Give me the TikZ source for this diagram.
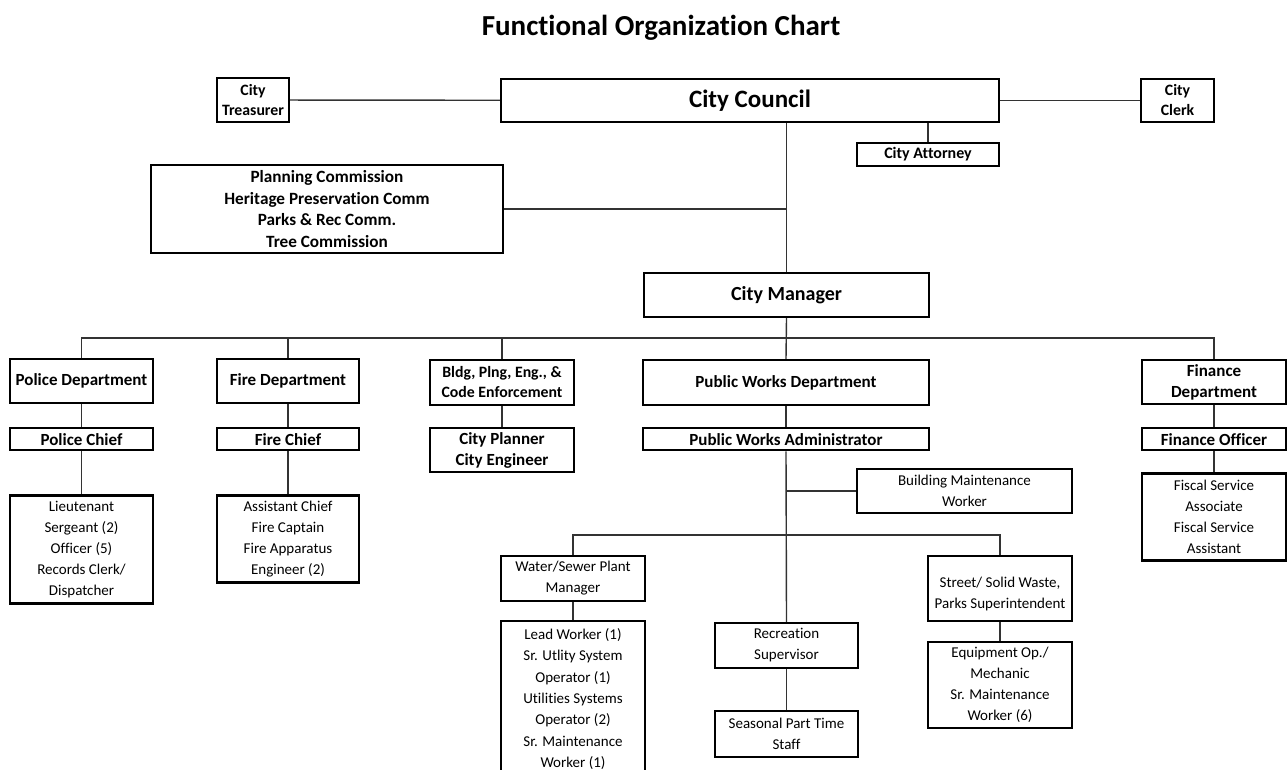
\documentclass[tikz,border=0pt]{standalone}
\usepackage{fontspec}
\setmainfont{Carlito}[Ligatures=NoCommon]
\usetikzlibrary{positioning}
\tikzstyle{block} = [draw, line width=2.2pt, fill=white, rectangle, align=center, inner sep=0pt]
\tikzstyle{head} = [font=\fontsize{17}{21}\selectfont\bfseries]
\tikzstyle{minor} = [font=\fontsize{15.8}{20}\selectfont\bfseries]
\tikzstyle{staff} = [font=\fontsize{15}{21}\selectfont]
\tikzstyle{link} = [line width=1.4pt, black!80]
\tikzset{wh/.style 2 args={minimum width=#1pt, minimum height=#2pt}}

\begin{document}
\begin{tikzpicture}[x=1pt, y=-1pt, auto]
  \useasboundingbox (0,0) rectangle (1287,769);
  \clip (0,0) rectangle (1287,769);
  \node[font=\fontsize{29}{34}\selectfont\bfseries] (title) at (661,28) {Functional Organization Chart};

  \node[block, wh={498}{43}, font=\fontsize{25}{29}\selectfont\bfseries] (council) at (750,100.5) {City Council};
  \node[block, minor, wh={72}{44}] (treasurer) at (253,100) {City\\Treasurer};
  \node[block, minor, wh={73}{43}] (clerk) at (1177.5,100.5) {City\\Clerk};
  \node[block, minor, font=\fontsize{16}{20}\selectfont\bfseries, wh={142}{23}] (attorney) at (928,154.5) {City Attorney};
  \node[block, font=\fontsize{17.2}{21.7}\selectfont\bfseries, wh={352}{88}] (commission) at (327,209)
    {Planning Commission\\Heritage Preservation Comm\\Parks \& Rec Comm.\\Tree Commission};
  \node[block, font=\fontsize{20}{24}\selectfont\bfseries, wh={285}{44}] (manager) at (786.5,295) {City Manager};

  \node[block, head, wh={143}{44}] (police) at (81.5,381) {Police Department};
  \node[block, head, wh={143}{22}, below=23pt of police] (policechief) {Police Chief};
  \node[block, staff, wh={143}{108}, below=43pt of policechief] (policestaff)
    {Lieutenant\\Sergeant (2)\\Officer (5)\\Records Clerk/\\Dispatcher};

  \node[block, head, wh={142}{44}] (fire) at (288,381) {Fire Department};
  \node[block, head, wh={142}{22}, below=23pt of fire] (firechief) {Fire Chief};
  \node[block, staff, wh={142}{87}, below=43pt of firechief] (firestaff)
    {Assistant Chief\\Fire Captain\\Fire Apparatus\\Engineer (2)};

  \node[block, minor, wh={144}{45}] (bldg) at (502,382.5) {Bldg, Plng, Eng., \&\\Code Enforcement};
  \node[block, font=\fontsize{17}{20.7}\selectfont\bfseries, wh={144}{44}, below=21pt of bldg] (planner)
    {City Planner\\City Engineer};

  \node[block, head, wh={286}{45}] (pwdept) at (786,382.5) {Public Works Department};
  \node[block, head, wh={286}{22}, below=21pt of pwdept] (pwadmin) {Public Works Administrator};
  \node[block, staff, wh={215}{44}] (bmw) at (964.5,491) {Building Maintenance\\Worker};

  \node[block, staff, wh={144}{45}] (water) at (573,578.5) {Water/Sewer Plant\\Manager};
  \node[block, staff, font=\fontsize{15}{21.4}\selectfont, wh={144}{156}, anchor=north] (waterstaff) at (573,620)
    {Lead Worker (1)\\Sr. Utlity System\\Operator (1)\\Utilities Systems\\Operator (2)\\Sr. Maintenance\\Worker (1)};
  \node[block, staff, wh={143}{45}] (recreation) at (786.5,645.5) {Recreation\\Supervisor};
  \node[block, staff, wh={143}{46}] (seasonal) at (786.5,734) {Seasonal Part Time\\Staff};
  \node[block, staff, wh={144}{65}] (street) at (1000,588.5) {\mbox{}\\Street/ Solid Waste,\\Parks Superintendent};
  \node[block, staff, wh={144}{86}] (equipment) at (1000,685)
    {Equipment Op./\\Mechanic\\Sr. Maintenance\\Worker (6)};

  \node[block, head, wh={144}{44}] (finance) at (1214,382) {Finance\\Department};
  \node[block, head, wh={144}{22}, below=22pt of finance] (finofficer) {Finance Officer};
  \node[block, staff, wh={144}{87}, below=21pt of finofficer] (fiscal)
    {Fiscal Service\\Associate\\Fiscal Service\\Assistant};

  \coordinate (deptbus) at (786,338);
  \coordinate (pwbus) at (786,535);

  \draw[link] (treasurer) -- (council);
  \draw[link] (council) -- (clerk);
  \draw[link] (attorney.north) -- (attorney.north |- council.south);
  \draw[link] (manager.north) -- (manager.north |- council.south);
  \draw[link] (commission.east) -- (commission.east -| manager.north);
  \draw[link] (police.north) |- (deptbus) -| (finance.north);
  \draw[link] (fire.north) -- (fire.north |- deptbus);
  \draw[link] (bldg.north) -- (bldg.north |- deptbus);
  \draw[link] (manager.south) -- (pwdept.north);
  \draw[link] (police) -- (policechief);
  \draw[link] (policechief) -- (policestaff);
  \draw[link] (fire) -- (firechief);
  \draw[link] (firechief) -- (firestaff);
  \draw[link] (bldg) -- (planner);
  \draw[link] (pwdept) -- (pwadmin);
  \draw[link] (pwadmin.south) -- (recreation.north);
  \draw[link] (bmw.west) -- (bmw.west -| pwadmin.south);
  \draw[link] (water.north) |- (pwbus) -| (street.north);
  \draw[link] (water) -- (waterstaff);
  \draw[link] (recreation) -- (seasonal);
  \draw[link] (street) -- (equipment);
  \draw[link] (finance) -- (finofficer);
  \draw[link] (finofficer) -- (fiscal);
\end{tikzpicture}
\end{document}
